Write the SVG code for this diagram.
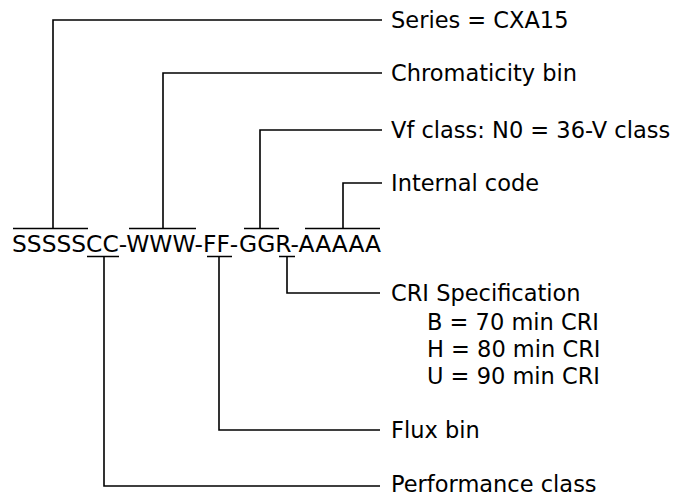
<svg xmlns="http://www.w3.org/2000/svg" width="685" height="496" viewBox="0 0 685 496">
<style>
.t{font-family:"DejaVu Sans",Verdana,sans-serif;font-size:22.5px;fill:#000}
.c{fill:none;stroke:#000;stroke-width:1.6}
</style>
<rect width="685" height="496" fill="#fff"/>
<g id="code"><text class="t" x="12" y="252" textLength="369" lengthAdjust="spacingAndGlyphs">SSSSSCC-WWW-FF-GGR-AAAAA</text></g>
<g id="connectors" class="c">
<path d="M13 228.5H88M53 228.5V20H382"/>
<path d="M129 228.5H196M163 228.5V73H382"/>
<path d="M244 228.5H279M260 228.5V130H382"/>
<path d="M305 228.5H380M343 228.5V183H382"/>
<path d="M279 256.5H295M287 256.5V293H380"/>
<path d="M207 256.5H232M219 256.5V430H380"/>
<path d="M87 256.5H119M104 256.5V486H380"/>
</g>
<g id="series"><text class="t" x="391" y="27.5">Series = CXA15</text></g>
<g id="chromaticity"><text class="t" x="391" y="80.5">Chromaticity bin</text></g>
<g id="vf"><text class="t" x="391" y="137.5">Vf class: N0 = 36-V class</text></g>
<g id="internal"><text class="t" x="391" y="191">Internal code</text></g>
<g id="cri"><text class="t" x="391" y="301">CRI Specification</text>
<text class="t" x="427" y="330">B = 70 min CRI</text>
<text class="t" x="427" y="357">H = 80 min CRI</text>
<text class="t" x="427" y="384">U = 90 min CRI</text></g>
<g id="flux"><text class="t" x="391" y="438">Flux bin</text></g>
<g id="performance"><text class="t" x="391" y="492">Performance class</text></g>
</svg>
